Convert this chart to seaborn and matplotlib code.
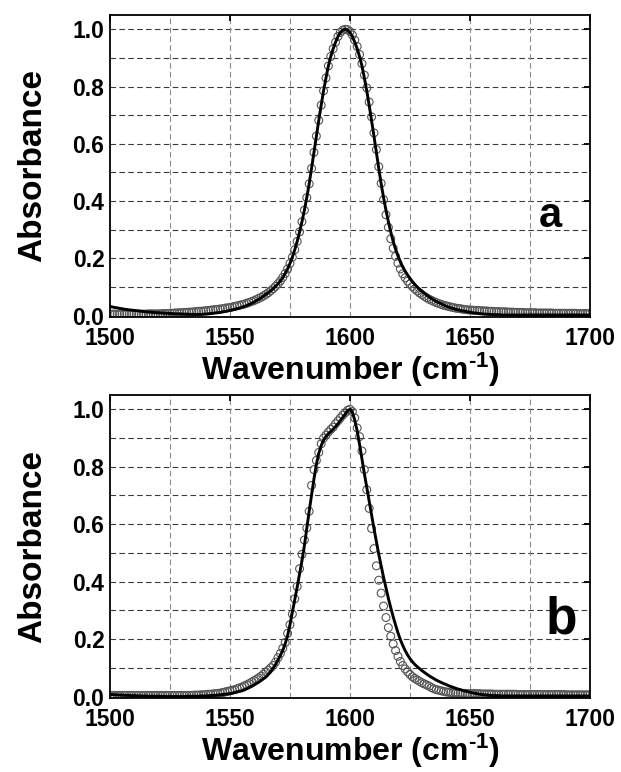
import numpy as np
import pandas as pd
import matplotlib
matplotlib.use("Agg")
import matplotlib.pyplot as plt
import seaborn as sns

# ---------------- data ----------------
wavenumber = list(range(1500, 1701))

fit_a = [
    0.032, 0.030, 0.028, 0.027, 0.025, 0.024, 0.022, 0.021, 0.020, 0.019,  # 1500
    0.018, 0.017, 0.016, 0.015, 0.014, 0.013, 0.012, 0.012, 0.011, 0.010,  # 1510
    0.010, 0.009, 0.009, 0.008, 0.008, 0.007, 0.007, 0.006, 0.006, 0.006,  # 1520
    0.005, 0.005, 0.005, 0.004, 0.004, 0.004, 0.004, 0.004, 0.004, 0.005,  # 1530
    0.005, 0.006, 0.007, 0.008, 0.009, 0.010, 0.011, 0.013, 0.014, 0.016,  # 1540
    0.018, 0.020, 0.022, 0.024, 0.026, 0.029, 0.032, 0.035, 0.039, 0.043,  # 1550
    0.047, 0.052, 0.057, 0.062, 0.068, 0.074, 0.080, 0.087, 0.094, 0.102,  # 1560
    0.111, 0.121, 0.133, 0.147, 0.163, 0.182, 0.204, 0.230, 0.259, 0.292,  # 1570
    0.328, 0.368, 0.412, 0.460, 0.514, 0.570, 0.627, 0.682, 0.735, 0.785,  # 1580
    0.830, 0.872, 0.905, 0.932, 0.955, 0.975, 0.989, 0.997, 1.000, 0.997,  # 1590
    0.989, 0.975, 0.955, 0.932, 0.905, 0.872, 0.830, 0.785, 0.735, 0.682,  # 1600
    0.627, 0.570, 0.514, 0.460, 0.412, 0.368, 0.328, 0.292, 0.259, 0.232,  # 1610
    0.208, 0.187, 0.170, 0.155, 0.142, 0.130, 0.119, 0.109, 0.100, 0.092,  # 1620
    0.085, 0.078, 0.071, 0.065, 0.059, 0.054, 0.049, 0.045, 0.041, 0.037,  # 1630
    0.033, 0.030, 0.027, 0.025, 0.022, 0.020, 0.018, 0.016, 0.015, 0.013,  # 1640
    0.012, 0.010, 0.009, 0.008, 0.007, 0.006, 0.005, 0.005, 0.004, 0.004,  # 1650
    0.003, 0.003, 0.003, 0.002, 0.002, 0.002, 0.002, 0.002, 0.002, 0.002,  # 1660
    0.002, 0.002, 0.002, 0.002, 0.002, 0.002, 0.002, 0.002, 0.002, 0.002,  # 1670
    0.002, 0.002, 0.002, 0.002, 0.002, 0.002, 0.002, 0.002, 0.002, 0.002,  # 1680
    0.002, 0.002, 0.002, 0.002, 0.002, 0.002, 0.002, 0.002, 0.002, 0.002,  # 1690
    0.002,                                                                  # 1700
]

obs_a = [
    0.005, 0.005, 0.005, 0.005, 0.005, 0.005, 0.005, 0.005, 0.005, 0.005,  # 1500
    0.005, 0.005, 0.005, 0.005, 0.005, 0.005, 0.006, 0.006, 0.006, 0.006,  # 1510
    0.006, 0.006, 0.007, 0.007, 0.007, 0.008, 0.008, 0.009, 0.009, 0.010,  # 1520
    0.010, 0.011, 0.011, 0.012, 0.012, 0.013, 0.014, 0.015, 0.015, 0.016,  # 1530
    0.017, 0.018, 0.019, 0.020, 0.021, 0.022, 0.023, 0.024, 0.026, 0.027,  # 1540
    0.028, 0.030, 0.032, 0.034, 0.036, 0.038, 0.040, 0.043, 0.046, 0.049,  # 1550
    0.052, 0.056, 0.060, 0.064, 0.069, 0.074, 0.080, 0.087, 0.094, 0.102,  # 1560
    0.111, 0.121, 0.133, 0.147, 0.163, 0.182, 0.204, 0.230, 0.259, 0.292,  # 1570
    0.328, 0.368, 0.412, 0.460, 0.514, 0.570, 0.627, 0.682, 0.735, 0.785,  # 1580
    0.830, 0.872, 0.905, 0.932, 0.955, 0.975, 0.989, 0.997, 1.000, 0.999,  # 1590
    0.992, 0.980, 0.962, 0.940, 0.912, 0.880, 0.840, 0.795, 0.746, 0.694,  # 1600
    0.638, 0.580, 0.520, 0.462, 0.405, 0.352, 0.308, 0.268, 0.235, 0.207,  # 1610
    0.183, 0.163, 0.146, 0.132, 0.120, 0.110, 0.101, 0.093, 0.086, 0.079,  # 1620
    0.073, 0.067, 0.062, 0.057, 0.053, 0.049, 0.045, 0.042, 0.039, 0.036,  # 1630
    0.034, 0.032, 0.030, 0.028, 0.026, 0.025, 0.024, 0.022, 0.021, 0.020,  # 1640
    0.019, 0.019, 0.018, 0.018, 0.017, 0.017, 0.016, 0.016, 0.015, 0.015,  # 1650
    0.014, 0.014, 0.014, 0.013, 0.013, 0.013, 0.012, 0.012, 0.012, 0.011,  # 1660
    0.011, 0.011, 0.011, 0.010, 0.010, 0.010, 0.010, 0.010, 0.009, 0.009,  # 1670
    0.009, 0.009, 0.009, 0.009, 0.009, 0.008, 0.008, 0.008, 0.008, 0.008,  # 1680
    0.008, 0.008, 0.008, 0.008, 0.008, 0.007, 0.007, 0.007, 0.007, 0.007,  # 1690
    0.007,                                                                  # 1700
]

fit_b = [
    0.007, 0.007, 0.006, 0.006, 0.005, 0.005, 0.004, 0.004, 0.004, 0.003,  # 1500
    0.003, 0.003, 0.002, 0.002, 0.002, 0.002, 0.001, 0.001, 0.001, 0.001,  # 1510
    0.001, 0.001, 0.000, 0.000, 0.000, 0.000, 0.000, 0.000, 0.000, 0.000,  # 1520
    0.000, 0.000, 0.001, 0.001, 0.001, 0.001, 0.001, 0.001, 0.002, 0.002,  # 1530
    0.002, 0.003, 0.003, 0.004, 0.004, 0.005, 0.006, 0.007, 0.008, 0.009,  # 1540
    0.010, 0.012, 0.014, 0.016, 0.018, 0.020, 0.023, 0.027, 0.031, 0.035,  # 1550
    0.040, 0.045, 0.050, 0.056, 0.062, 0.068, 0.077, 0.087, 0.099, 0.112,  # 1560
    0.127, 0.143, 0.161, 0.183, 0.212, 0.250, 0.293, 0.337, 0.381, 0.426,  # 1570
    0.473, 0.525, 0.585, 0.645, 0.702, 0.758, 0.808, 0.847, 0.873, 0.893,  # 1580
    0.906, 0.915, 0.923, 0.931, 0.940, 0.950, 0.961, 0.972, 0.983, 0.995,  # 1590
    1.000, 0.990, 0.962, 0.925, 0.878, 0.826, 0.776, 0.728, 0.682, 0.630,  # 1600
    0.585, 0.540, 0.495, 0.455, 0.415, 0.378, 0.342, 0.309, 0.278, 0.249,  # 1610
    0.222, 0.198, 0.178, 0.160, 0.145, 0.132, 0.121, 0.112, 0.104, 0.097,  # 1620
    0.090, 0.084, 0.078, 0.072, 0.067, 0.062, 0.057, 0.053, 0.049, 0.045,  # 1630
    0.042, 0.038, 0.035, 0.032, 0.029, 0.026, 0.024, 0.021, 0.019, 0.017,  # 1640
    0.015, 0.013, 0.011, 0.010, 0.008, 0.007, 0.006, 0.005, 0.004, 0.004,  # 1650
    0.003, 0.003, 0.003, 0.002, 0.002, 0.002, 0.002, 0.002, 0.002, 0.002,  # 1660
    0.002, 0.002, 0.002, 0.002, 0.002, 0.002, 0.002, 0.002, 0.002, 0.002,  # 1670
    0.002, 0.002, 0.002, 0.002, 0.002, 0.002, 0.002, 0.002, 0.002, 0.002,  # 1680
    0.002, 0.002, 0.002, 0.002, 0.002, 0.002, 0.002, 0.002, 0.002, 0.002,  # 1690
    0.002,                                                                  # 1700
]

obs_b = [
    0.004, 0.004, 0.004, 0.004, 0.004, 0.004, 0.004, 0.004, 0.004, 0.004,  # 1500
    0.004, 0.004, 0.004, 0.004, 0.004, 0.004, 0.004, 0.004, 0.004, 0.004,  # 1510
    0.004, 0.004, 0.004, 0.004, 0.004, 0.004, 0.004, 0.004, 0.004, 0.004,  # 1520
    0.004, 0.004, 0.004, 0.004, 0.004, 0.005, 0.005, 0.005, 0.006, 0.006,  # 1530
    0.007, 0.008, 0.008, 0.009, 0.010, 0.011, 0.012, 0.014, 0.016, 0.018,  # 1540
    0.020, 0.022, 0.024, 0.027, 0.030, 0.033, 0.037, 0.041, 0.045, 0.050,  # 1550
    0.055, 0.060, 0.065, 0.071, 0.078, 0.085, 0.092, 0.100, 0.108, 0.120,  # 1560
    0.135, 0.150, 0.168, 0.188, 0.220, 0.250, 0.287, 0.340, 0.383, 0.445,  # 1570
    0.495, 0.545, 0.587, 0.645, 0.735, 0.790, 0.822, 0.850, 0.880, 0.900,  # 1580
    0.910, 0.921, 0.930, 0.938, 0.950, 0.960, 0.970, 0.980, 0.988, 0.997,  # 1590
    1.000, 0.992, 0.970, 0.935, 0.905, 0.855, 0.790, 0.720, 0.655, 0.585,  # 1600
    0.515, 0.455, 0.405, 0.360, 0.315, 0.275, 0.240, 0.210, 0.183, 0.160,  # 1610
    0.140, 0.122, 0.108, 0.096, 0.086, 0.077, 0.069, 0.063, 0.058, 0.053,  # 1620
    0.048, 0.044, 0.040, 0.036, 0.031, 0.027, 0.024, 0.022, 0.020, 0.018,  # 1630
    0.016, 0.015, 0.014, 0.013, 0.013, 0.012, 0.012, 0.011, 0.011, 0.010,  # 1640
    0.010, 0.010, 0.010, 0.010, 0.010, 0.009, 0.009, 0.009, 0.009, 0.009,  # 1650
    0.008, 0.008, 0.008, 0.008, 0.008, 0.008, 0.008, 0.008, 0.008, 0.008,  # 1660
    0.007, 0.007, 0.007, 0.007, 0.007, 0.007, 0.007, 0.007, 0.007, 0.007,  # 1670
    0.007, 0.007, 0.007, 0.007, 0.007, 0.007, 0.007, 0.007, 0.007, 0.007,  # 1680
    0.006, 0.006, 0.006, 0.006, 0.006, 0.006, 0.006, 0.006, 0.006, 0.006,  # 1690
    0.006,                                                                  # 1700
]

x_ticks = [1500, 1550, 1600, 1650, 1700]
y_ticks = [0.0, 0.2, 0.4, 0.6, 0.8, 1.0]
y_tick_labels = ["0.0", "0.2", "0.4", "0.6", "0.8", "1.0"]
h_grid = [0.1, 0.2, 0.3, 0.4, 0.5, 0.6, 0.7, 0.8, 0.9, 1.0]
v_grid = [1525, 1550, 1575, 1600, 1625, 1650, 1675]
panel_letters = ["a", "b"]

# ---------------- style ----------------
sns.set_theme(style="white")
plt.rcParams["font.family"] = ["Liberation Sans", "DejaVu Sans"]
plt.rcParams["font.weight"] = "bold"
plt.rcParams["axes.labelweight"] = "bold"
plt.rcParams["text.color"] = "black"
plt.rcParams["axes.labelcolor"] = "black"
plt.rcParams["xtick.color"] = "black"
plt.rcParams["ytick.color"] = "black"
plt.rcParams["mathtext.fontset"] = "custom"
plt.rcParams["mathtext.rm"] = "Liberation Sans:bold"
plt.rcParams["mathtext.bf"] = "Liberation Sans:bold"
plt.rcParams["mathtext.default"] = "bf"

fig = plt.figure(figsize=(6.21, 7.72), dpi=100)
ax_a = fig.add_axes([0.1771, 0.5894, 0.7729, 0.3912])
ax_b = fig.add_axes([0.1771, 0.0959, 0.7729, 0.3925])

df_a = pd.DataFrame({"wn": wavenumber, "fit": fit_a, "obs": obs_a})
df_b = pd.DataFrame({"wn": wavenumber, "fit": fit_b, "obs": obs_b})

for ax, df, letter, lpos, lsize in [
    (ax_a, df_a, panel_letters[0], (1683.7, 0.309), 30),
    (ax_b, df_b, panel_letters[1], (1688.2, 0.218), 37),
]:
    ax.set_facecolor("white")
    for y in h_grid:
        ax.axhline(y, color="#3a3a3a", lw=0.8, ls=(0, (5, 3)), zorder=0.5)
    for x in v_grid:
        ax.axvline(x, color="#8c8c8c", lw=0.8, ls=(0, (5, 3)), zorder=0.5)

    sns.scatterplot(data=df, x="wn", y="obs", ax=ax, marker="o", s=32,
                    facecolor="none", edgecolor="#555555", linewidth=0.8,
                    zorder=2, legend=False)
    sns.lineplot(data=df, x="wn", y="fit", ax=ax, color="black", lw=2.1,
                 zorder=3, legend=False)

    ax.set_xlim(1500, 1700)
    ax.set_ylim(-0.005, 1.05)
    ax.set_xticks(x_ticks)
    ax.set_xticklabels([str(v) for v in x_ticks])
    ax.set_yticks(y_ticks)
    ax.set_yticklabels(y_tick_labels)
    ax.tick_params(direction="in", top=True, right=True, length=4, width=1.3,
                   labelsize=16.5, colors="black")
    ax.tick_params(axis="x", pad=7)
    ax.tick_params(axis="y", pad=4)
    for lab in ax.get_xticklabels() + ax.get_yticklabels():
        lab.set_fontweight("bold")
    for sp in ax.spines.values():
        sp.set_visible(True)
        sp.set_color("black")
        sp.set_linewidth(1.3)

    ax.set_xlabel(r"Wavenumber (cm$^{\text{-}1}$)", fontsize=23,
                  fontweight="bold", labelpad=1)
    ax.set_ylabel("Absorbance", fontsize=24, fontweight="bold")
    ax.yaxis.set_label_coords(-0.128, 0.5)
    ax.text(lpos[0], lpos[1], letter, fontsize=lsize, fontweight="bold",
            ha="center", va="baseline", color="black", zorder=4)

fig.savefig("out.png", dpi=100, facecolor="white")
